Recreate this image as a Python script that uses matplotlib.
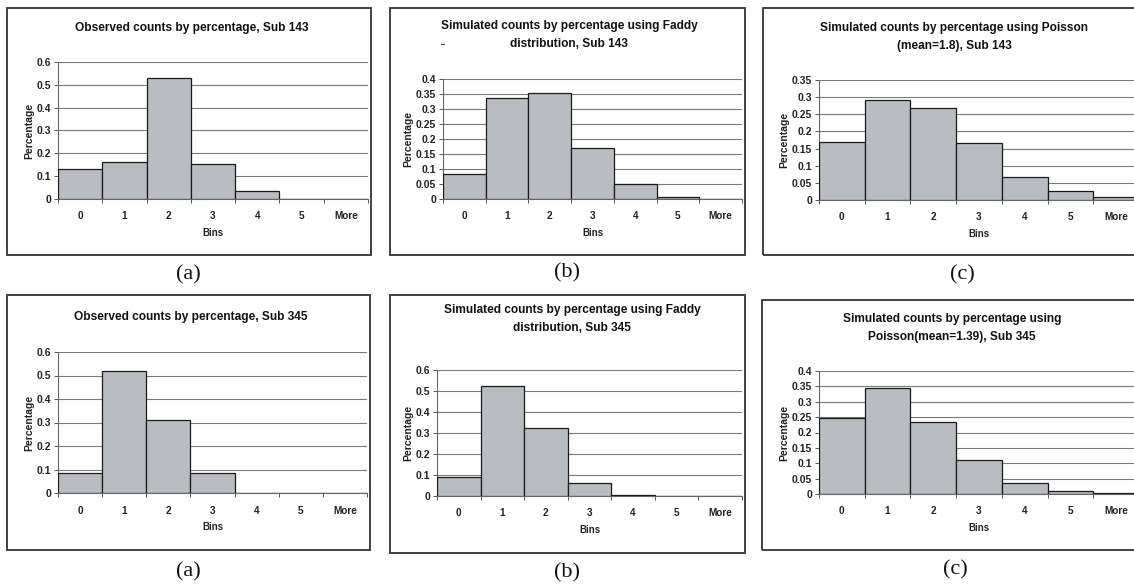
import matplotlib
matplotlib.use("Agg")
import matplotlib.pyplot as plt
from matplotlib.patches import Rectangle
from matplotlib.lines import Line2D
from matplotlib.ticker import MultipleLocator, FixedLocator

# ---------------- data ----------------
bins = ["0", "1", "2", "3", "4", "5", "More"]

obs_143 = [0.13, 0.162, 0.53, 0.155, 0.035, 0.0, 0.0]
faddy_143 = [0.082, 0.337, 0.354, 0.171, 0.051, 0.008, 0.0]
poisson_143 = [0.168, 0.293, 0.267, 0.165, 0.066, 0.025, 0.008]
obs_345 = [0.087, 0.518, 0.31, 0.085, 0.0, 0.0, 0.0]
faddy_345 = [0.09, 0.522, 0.323, 0.064, 0.004, 0.0, 0.0]
poisson_345 = [0.248, 0.345, 0.233, 0.11, 0.037, 0.009, 0.003]

titles = [
    "Observed counts by percentage, Sub 143",
    "Simulated counts by percentage using Faddy\ndistribution, Sub 143",
    "Simulated counts by percentage using Poisson\n(mean=1.8), Sub 143",
    "Observed counts by percentage, Sub 345",
    "Simulated counts by percentage using Faddy\ndistribution, Sub 345",
    "Simulated counts by percentage using\nPoisson(mean=1.39), Sub 345",
]
panel_letters = ["(a)", "(b)", "(c)", "(a)", "(b)", "(c)"]
ymax = [0.6, 0.4, 0.35, 0.6, 0.6, 0.4]
ystep = [0.1, 0.05, 0.05, 0.1, 0.1, 0.05]
series = [obs_143, faddy_143, poisson_143, obs_345, faddy_345, poisson_345]

# ---------------- layout (pixels) ----------------
W, H = 1134, 587
# axes: left, right, top, bottom
ax_px = [
    (58, 368, 62, 199),
    (443, 742, 79, 199),
    (819, 1139, 80, 200),
    (58, 367, 352, 493),
    (437, 742, 370, 496),
    (819, 1139, 371, 494),
]
box_px = [
    (7, 371, 8, 255),
    (390, 745, 8, 255),
    (763, 1142, 8, 255),
    (7, 370, 295, 550),
    (390, 745, 295, 553),
    (762, 1142, 300, 550),
]
title_px = [(192, 28), (569, 35), (954, 37), (191, 317), (572, 319), (952, 328)]
letter_px = [(188, 275), (567, 273), (962, 275), (188, 572), (567, 573), (955, 570)]

fig = plt.figure(figsize=(W / 100, H / 100), dpi=100)
fig.patch.set_facecolor("white")

sans = ["Liberation Sans", "DejaVu Sans"]
serif = ["Liberation Serif", "DejaVu Serif"]

bar_color = "#b9bcc0"
grid_color = "#7a7a7a"

for i in range(6):
    l, r, t, b = ax_px[i]
    ax = fig.add_axes([l / W, 1 - b / H, (r - l) / W, (b - t) / H])
    x = list(range(len(bins)))
    ax.bar(x, series[i], width=1.0, color=bar_color, edgecolor="#1a1a1a", linewidth=0.9, zorder=3)
    ax.set_xlim(-0.5, len(bins) - 0.5)
    ax.set_ylim(0, ymax[i])
    ax.yaxis.set_major_locator(MultipleLocator(ystep[i]))
    ax.yaxis.set_major_formatter(plt.FuncFormatter(lambda v, p: ("%g" % round(v, 3))))
    ax.grid(axis="y", color=grid_color, linewidth=0.8, zorder=0)
    # x ticks: marks at boundaries, labels at centres
    ax.xaxis.set_major_locator(FixedLocator([k - 0.5 for k in range(len(bins) + 1)]))
    ax.xaxis.set_major_formatter(plt.NullFormatter())
    ax.xaxis.set_minor_locator(FixedLocator(x))
    ax.set_xticks(x, bins, minor=True)
    ax.tick_params(axis="x", which="major", length=3, width=0.7, color="#555555", direction="out")
    ax.tick_params(axis="x", which="minor", length=0, pad=9, labelsize=7.2)
    ax.tick_params(axis="y", length=3, width=0.7, color="#555555", labelsize=7.5, pad=2)
    for lab in ax.get_xticklabels(minor=True) + ax.get_yticklabels():
        lab.set_fontfamily(sans)
        lab.set_fontweight("bold")
        lab.set_color("#222222")
    for s in ["top", "right"]:
        ax.spines[s].set_visible(False)
    for s in ["left", "bottom"]:
        ax.spines[s].set_color("#666666")
        ax.spines[s].set_linewidth(0.8)
    ax.set_xlabel("Bins", fontsize=7, fontweight="bold", family=sans, labelpad=5, color="#222222")
    ax.set_ylabel("Percentage", fontsize=7.5, fontweight="bold", family=sans, labelpad=2, color="#222222")

    # panel frame
    bl, br, bt, bb = box_px[i]
    fig.patches.append(Rectangle((bl / W, 1 - bb / H), (br - bl) / W, (bb - bt) / H,
                                 transform=fig.transFigure, fill=False,
                                 edgecolor="#333333", linewidth=1.3))
    tx, ty = title_px[i]
    fig.text(tx / W, 1 - ty / H, titles[i], ha="center", va="center", fontsize=8.6,
             fontweight="bold", family=sans, linespacing=1.6, color="#111111")
    lx, ly = letter_px[i]
    fig.text(lx / W, 1 - ly / H, panel_letters[i], ha="center", va="center",
             fontsize=16, family=serif, color="#111111")

# small stray dash in the reference under the second panel title
fig.lines.append(Line2D([441 / W, 444 / W], [1 - 44 / H, 1 - 44 / H], transform=fig.transFigure,
                        color="#444444", linewidth=0.8))

fig.savefig("out.png", dpi=100)
